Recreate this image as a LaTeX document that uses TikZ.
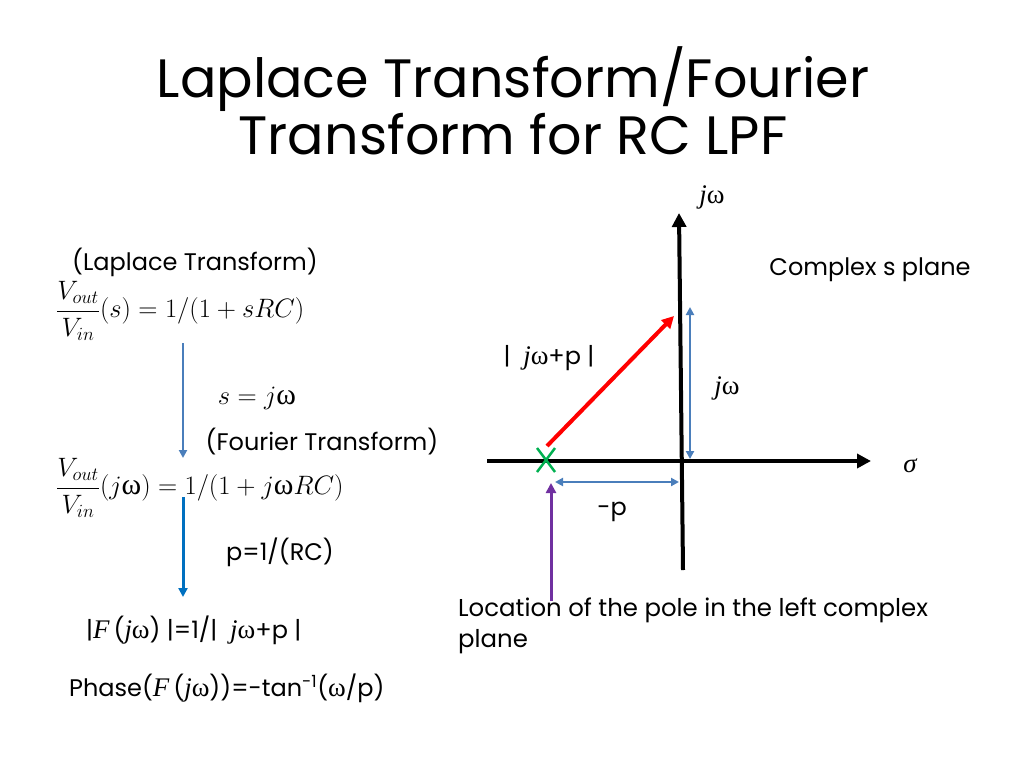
\RequirePackage{fix-cm}
\documentclass[tikz,border=0pt]{standalone}
\usepackage{fontspec}
\usetikzlibrary{arrows.meta,calc}
\setmainfont{Poppins}
\newfontfamily\lser[Scale=1.12]{Liberation Serif}
\newcommand{\jw}{{\lser\itshape j}{\lser ω}}
\newcommand{\wg}{{\lser ω}}
\definecolor{lblue}{HTML}{4A7EBB}
\definecolor{dblue}{HTML}{0070C0}
\definecolor{pgreen}{HTML}{00B050}
\definecolor{ppurple}{HTML}{7030A0}
\tikzset{
  body/.style={inner sep=0pt, font=\fontsize{24}{30}\selectfont},
  eqn/.style={inner sep=0pt, font=\fontsize{26.6}{32}\selectfont},
  ttl/.style={inner sep=0pt, font=\fontsize{54}{64}\selectfont},
  axis/.style={line width=4pt, -{Triangle[length=14pt,width=14pt]}},
  thinarr/.style={lblue, line width=2pt, -{Triangle[length=8pt,width=8pt]}},
  dblarr/.style={lblue, line width=2pt, {Triangle[length=8pt,width=8pt]}-{Triangle[length=8pt,width=8pt]}},
}
\begin{document}
\begin{tikzpicture}[x=1pt,y=-1pt]
\useasboundingbox (0,0) rectangle (1024,768);
% title
\node[ttl] (t1) at (513,79) {Laplace Transform/Fourier};
\node[ttl] (t2) at (513,134) {Transform for RC LPF};
% left column
\node[body] (lap) at (195,262) {(Laplace Transform)};
\node[eqn, anchor=west] (eq1) at (56,311) {$\displaystyle\frac{V_{out}}{V_{in}}(s)=1/(1+sRC)$};
\coordinate (a1s) at (183,343);
\coordinate (a1e) at (183,458);
\draw[thinarr] (a1s) -- (a1e);
\node[eqn] (sjw) at (257,398) {$s=j$\wg};
\node[body] (four) at (322,442) {(Fourier Transform)};
\node[eqn, anchor=west] (eq2) at (56,488) {$\displaystyle\frac{V_{out}}{V_{in}}(j${\lser ω}$)=1/(1+j${\lser ω}$RC)$};
\coordinate (a2s) at (183,497);
\coordinate (a2e) at (183,597);
\draw[dblue, line width=3pt, -{Triangle[length=9pt,width=9pt]}] (a2s) -- (a2e);
\node[body] (prc) at (280,552) {p=1/(RC)};
\node[body, anchor=west] (mag) at (86,630) {|{\lser\itshape F}\,({\lser\itshape j}\wg)\ |=1/|\ \ \jw+p\ |};
\node[body, anchor=west] (ph) at (69,688) {Phase({\lser\itshape F}\,({\lser\itshape j}\wg))=-tan\textsuperscript{-1}(\wg/p)};
% s-plane
\coordinate (vb) at (683,570);
\coordinate (vt) at (679,213);
\coordinate (hl) at (487,461);
\coordinate (hr) at (871,461);
\draw[axis] (vb) -- (vt);
\draw[axis] (hl) -- (hr);
\node[body] (wtop) at (712,197) {\jw};
\node[body] (cs) at (870,270) {Complex s plane};
\node[body] (sig) at (910,466) {\lser\itshape σ};
% pole
\coordinate (pole) at (546,460);
\draw[pgreen, line width=2.5pt] ($(pole)+(-9,-12)$) -- ($(pole)+(9,12)$);
\draw[pgreen, line width=2.5pt] ($(pole)+(-9,12)$) -- ($(pole)+(9,-12)$);
% red vector
\coordinate (rs) at (547,446);
\coordinate (re) at (674,316);
\draw[red, line width=4pt, -{Triangle[length=12pt,width=12pt]}] (rs) -- (re);
\node[body] (mgl) at (549,358) {|\ \ \jw+p\ |};
% blue dims
\coordinate (vd1) at (690,459);
\coordinate (vd2) at (690,307);
\draw[dblarr] (vd1) -- (vd2);
\node[body] (wl) at (727,388) {\jw};
\coordinate (hd1) at (555,482);
\coordinate (hd2) at (679,482);
\draw[dblarr] (hd1) -- (hd2);
\node[body] (pl) at (612,512) {-p};
% purple
\coordinate (ps) at (551,601);
\coordinate (pe) at (551,483);
\draw[ppurple, line width=3pt, -{Triangle[length=10pt,width=10pt]}] (ps) -- (pe);
\node[body, anchor=north west, align=left, font=\fontsize{24.4}{31}\selectfont] (loc) at (458,598) {Location of the pole in the left complex\\plane};
\end{tikzpicture}
\end{document}
